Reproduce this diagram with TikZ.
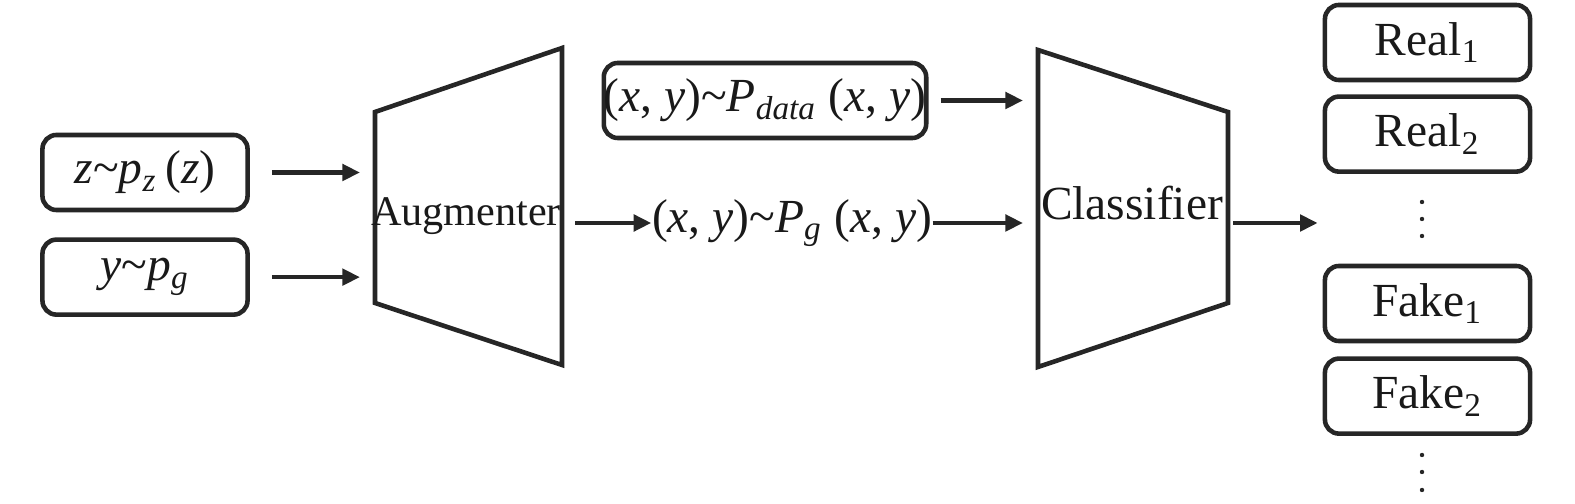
\documentclass[tikz,border=0pt]{standalone}
\usepackage{fontspec}
\setmainfont{Liberation Serif}
\usetikzlibrary{arrows.meta, positioning}

\begin{document}
\begin{tikzpicture}[
    x=0.01cm, y=-0.01cm,
    >={Triangle[length=5pt,width=4.6pt]},
    every node/.style={font=\fontsize{13.5}{16}\selectfont, text=black!90},
    box/.style={rectangle, rounded corners=4pt, draw=black!85, line width=1.3pt, minimum width=2.05cm, minimum height=0.75cm, inner sep=0pt, align=center},
    link/.style={->, draw=black!85, line width=1.3pt},
    net/.style={draw=black!85, line width=1.3pt, line join=miter}
  ]
  \useasboundingbox (0,0) rectangle (1575,504);
  % inputs
  \node[box] (zin) at (145,172.5) {\textit{z}\textasciitilde\textit{p}\textsubscript{\textit{z}}\,(\textit{z})};
  \node[box, below=0.25cm of zin] (yin) {\textit{y}\textasciitilde\textit{p}\textsubscript{\textit{g}}};
  % augmenter
  \coordinate (augtl) at (375,112);
  \coordinate (augtr) at (562,48);
  \coordinate (augbr) at (562,365);
  \coordinate (augbl) at (375,303);
  \coordinate (augout) at (562,223);
  \draw[net] (augtl) -- (augtr) -- (augbr) -- (augbl) -- cycle;
  \node[anchor=base, font=\fontsize{12}{14}\selectfont] (aug) at (466,226) {Augmenter};
  \draw[link, shorten <=0.22cm, shorten >=0.15cm] (zin.east) -- (zin.east -| augtl);
  \draw[link, shorten <=0.22cm, shorten >=0.15cm] (yin.east) -- (yin.east -| augtl);
  % real and generated samples
  \node[box, minimum width=3.2cm] (pdata) at (765,100.5) {(\textit{x}, \textit{y})\textasciitilde\textit{P}\textsubscript{\textit{data}} (\textit{x}, \textit{y})};
  \node[inner sep=0pt] (pg) at (792,223) {(\textit{x}, \textit{y})\textasciitilde\textit{P}\textsubscript{\textit{g}} (\textit{x}, \textit{y})};
  \draw[link, shorten <=0.13cm] (augout) -- (pg.west);
  % classifier
  \coordinate (clstl) at (1038,50);
  \coordinate (clstr) at (1228,112);
  \coordinate (clsbr) at (1228,303);
  \coordinate (clsbl) at (1038,367);
  \coordinate (clsout) at (1228,223);
  \draw[net] (clstl) -- (clstr) -- (clsbr) -- (clsbl) -- cycle;
  \node[anchor=base] (cls) at (1132,220) {Classifier};
  \draw[link, shorten <=0.12cm, shorten >=0.15cm] (pdata.east) -- (pdata.east -| clstl);
  \draw[link, shorten >=0.15cm] (pg.east) -- (pg.east -| clstl);
  % outputs
  \node[box] (real1) at (1427.5,42.5) {Real\textsubscript{1}};
  \node[box, below=0.12cm of real1] (real2) {Real\textsubscript{2}};
  \node[box] (fake1) at (1427.5,303.5) {Fake\textsubscript{1}};
  \node[box, below=0.13cm of fake1] (fake2) {Fake\textsubscript{2}};
  \draw[link, shorten <=0.05cm, shorten >=0.05cm] (clsout) -- (clsout -| real1.west);
  \foreach \y in {202,219,236,455,472,490}
    \fill[black!85] (1422,\y) circle (0.022cm);
\end{tikzpicture}
\end{document}
